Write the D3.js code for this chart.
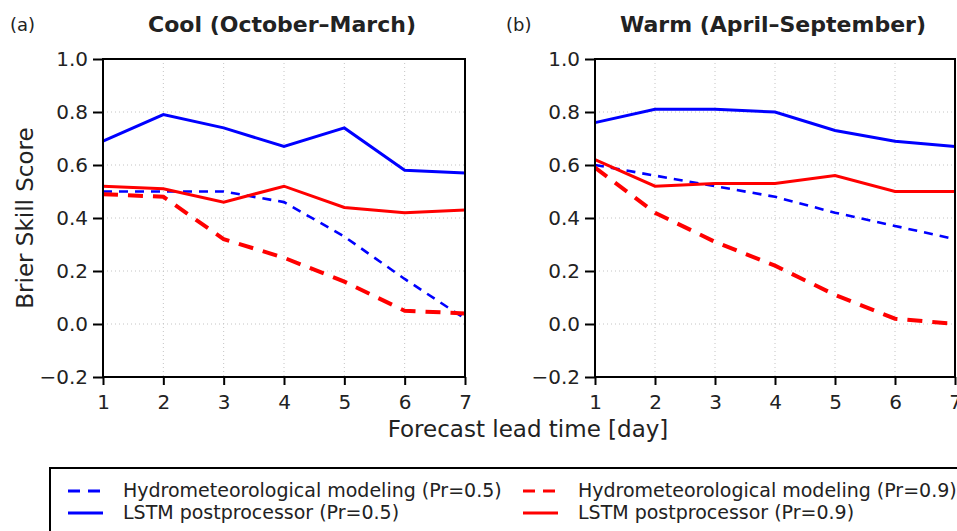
<!DOCTYPE html>
<html>
<head>
<meta charset="utf-8">
<script src="https://cdn.jsdelivr.net/npm/d3@7"></script>
<style>
  body { margin: 0; background: #fff; }
  svg { display: block; font-family: "DejaVu Sans", sans-serif; }
</style>
</head>
<body>
<svg id="chart"></svg>
<script>
// data
const days = [1, 2, 3, 4, 5, 6, 7];
const yTicks = [-0.2, 0.0, 0.2, 0.4, 0.6, 0.8, 1.0];

// cool season (October-March)
const coolHydro05 = [0.50, 0.50, 0.50, 0.46, 0.33, 0.17, 0.02];
const coolHydro09 = [0.49, 0.48, 0.32, 0.25, 0.16, 0.05, 0.04];
const coolLstm05 = [0.69, 0.79, 0.74, 0.67, 0.74, 0.58, 0.57];
const coolLstm09 = [0.52, 0.51, 0.46, 0.52, 0.44, 0.42, 0.43];

// warm season (April-September)
const warmHydro05 = [0.60, 0.56, 0.52, 0.48, 0.42, 0.37, 0.32];
const warmHydro09 = [0.59, 0.42, 0.31, 0.22, 0.11, 0.02, 0.00];
const warmLstm05 = [0.76, 0.81, 0.81, 0.80, 0.73, 0.69, 0.67];
const warmLstm09 = [0.62, 0.52, 0.53, 0.53, 0.56, 0.50, 0.50];

const seriesNames = [
  "Hydrometeorological modeling (Pr=0.5)",
  "Hydrometeorological modeling (Pr=0.9)",
  "LSTM postprocessor (Pr=0.5)",
  "LSTM postprocessor (Pr=0.9)"
];

// constants
const width = 957;
const height = 531;
const plotTop = 59, plotBottom = 377;

const styles = [
  { color: "#0000ff", width: 2.6, dash: "9,7" },
  { color: "#ff0000", width: 4, dash: "15,10" },
  { color: "#0000ff", width: 3, dash: null },
  { color: "#ff0000", width: 3, dash: null }
];

const panels = [
  { tag: "(a)", title: "Cool (October\u2013March)", left: 103, right: 465, tagX: 10,
    series: [coolHydro05, coolHydro09, coolLstm05, coolLstm09] },
  { tag: "(b)", title: "Warm (April\u2013September)", left: 595, right: 955, tagX: 506,
    series: [warmHydro05, warmHydro09, warmLstm05, warmLstm09] }
];

const svg = d3.select('#chart')
  .attr('width', width)
  .attr('height', height);

const yScale = d3.scaleLinear().domain([-0.2, 1.0]).range([plotBottom, plotTop]);

panels.forEach(p => {
  const xScale = d3.scaleLinear().domain([1, 7]).range([p.left, p.right]);
  const g = svg.append('g');

  // dotted grid
  g.selectAll('.vgrid')
    .data(days.slice(1, -1))
    .enter().append('line')
    .attr('x1', d => xScale(d)).attr('x2', d => xScale(d))
    .attr('y1', plotTop).attr('y2', plotBottom)
    .attr('stroke', '#c4c4c4').attr('stroke-width', 1)
    .attr('stroke-dasharray', '1,3');
  g.selectAll('.hgrid')
    .data(yTicks.slice(1, -1))
    .enter().append('line')
    .attr('x1', p.left).attr('x2', p.right)
    .attr('y1', d => yScale(d)).attr('y2', d => yScale(d))
    .attr('stroke', '#c4c4c4').attr('stroke-width', 1)
    .attr('stroke-dasharray', '1,3');

  // data lines
  const line = d3.line()
    .x((d, i) => xScale(days[i]))
    .y(d => yScale(d));
  p.series.forEach((s, i) => {
    g.append('path')
      .attr('d', line(s))
      .attr('fill', 'none')
      .attr('stroke', styles[i].color)
      .attr('stroke-width', styles[i].width)
      .attr('stroke-dasharray', styles[i].dash);
  });

  // axes
  const yAxis = g.append('g')
    .attr('transform', 'translate(' + p.left + ',0)')
    .call(d3.axisLeft(yScale).tickValues(yTicks).tickFormat(d3.format('.1f')).tickSizeInner(10).tickSizeOuter(0).tickPadding(5));
  const xAxis = g.append('g')
    .attr('transform', 'translate(0,' + plotBottom + ')')
    .call(d3.axisBottom(xScale).tickValues(days).tickFormat(d3.format('d')).tickSizeInner(8).tickSizeOuter(0).tickPadding(10));
  [yAxis, xAxis].forEach(a => {
    a.select('.domain').remove();
    a.selectAll('line').attr('stroke', '#000').attr('stroke-width', 2);
    a.selectAll('text').attr('font-size', 20).attr('fill', '#222').attr('font-family', '"DejaVu Sans", sans-serif');
  });

  // frame
  g.append('rect')
    .attr('x', p.left).attr('y', plotTop)
    .attr('width', p.right - p.left).attr('height', plotBottom - plotTop)
    .attr('fill', 'none').attr('stroke', '#000').attr('stroke-width', 2);

  // titles
  g.append('text')
    .attr('x', (p.left + p.right) / 2 - 2).attr('y', 32)
    .attr('text-anchor', 'middle')
    .attr('font-size', 22).attr('font-weight', 'bold').attr('fill', '#222')
    .text(p.title);
  g.append('text')
    .attr('x', p.tagX).attr('y', 31)
    .attr('font-size', 18).attr('fill', '#222')
    .text(p.tag);
});

// axis labels
svg.append('text')
  .attr('transform', 'translate(33,218) rotate(-90)')
  .attr('text-anchor', 'middle')
  .attr('font-size', 23).attr('fill', '#222')
  .text('Brier Skill Score');
svg.append('text')
  .attr('x', 528).attr('y', 437)
  .attr('text-anchor', 'middle')
  .attr('font-size', 23).attr('fill', '#222')
  .text('Forecast lead time [day]');

// legend
const legend = svg.append('g');
legend.append('rect')
  .attr('x', 50).attr('y', 468)
  .attr('width', 1000).attr('height', 100)
  .attr('fill', 'none').attr('stroke', '#000').attr('stroke-width', 2);

const legendPos = [
  { x: 68, y: 497 }, { x: 523, y: 497 },
  { x: 68, y: 519 }, { x: 523, y: 519 }
];
seriesNames.forEach((name, i) => {
  const pos = legendPos[i];
  legend.append('line')
    .attr('x1', pos.x).attr('x2', pos.x + 35)
    .attr('y1', pos.y - 6).attr('y2', pos.y - 6)
    .attr('stroke', styles[i].color)
    .attr('stroke-width', 3)
    .attr('stroke-dasharray', styles[i].dash ? '12,8' : null);
  legend.append('text')
    .attr('x', pos.x + 55).attr('y', pos.y)
    .attr('font-size', 19).attr('fill', '#222')
    .text(name);
});
</script>
</body>
</html>
